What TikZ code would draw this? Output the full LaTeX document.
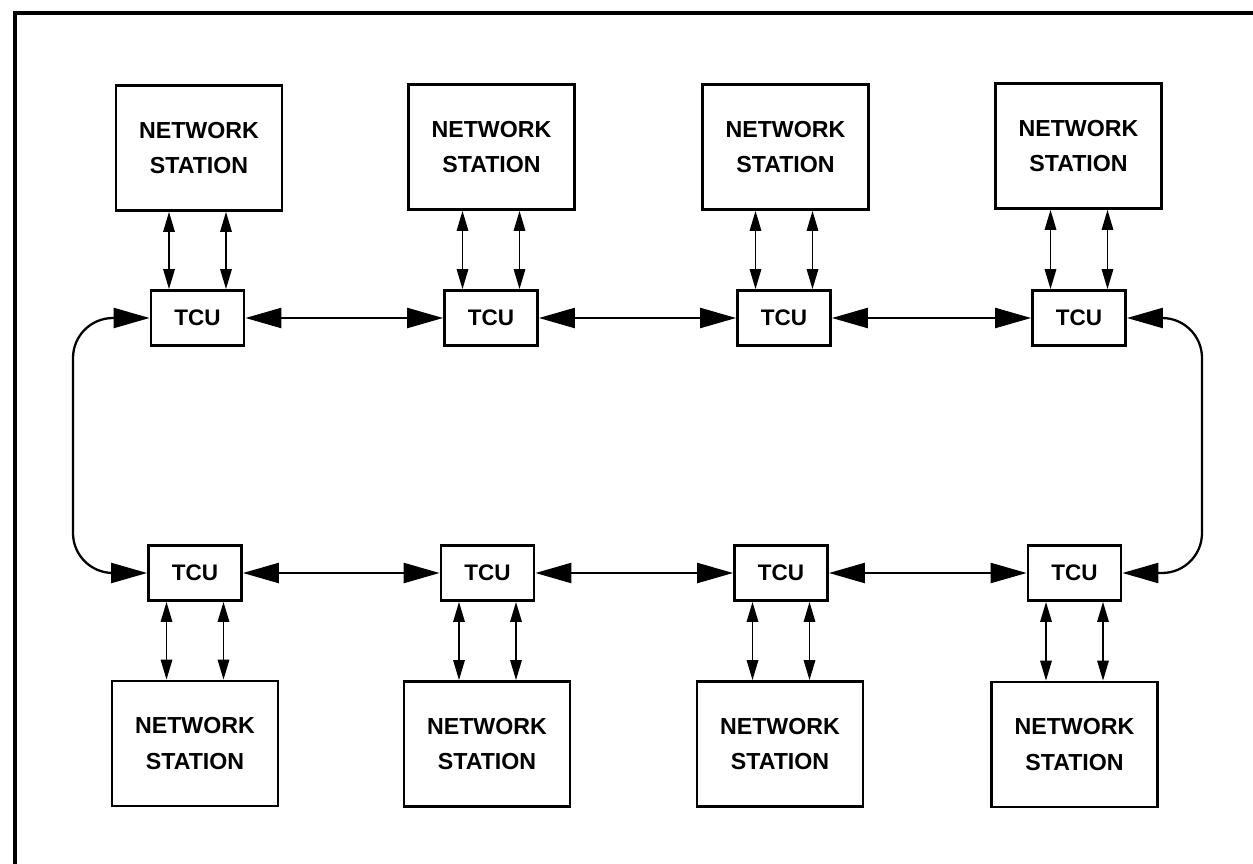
\documentclass[tikz,border=0pt]{standalone}
\usepackage{fontspec}
\setmainfont{Liberation Sans}
\usetikzlibrary{arrows.meta,calc}
\begin{document}
\begin{tikzpicture}[x=0.02cm,y=-0.02cm,
  station/.style={draw,line width=1.6pt,minimum width=3.32cm,minimum height=2.5cm,align=center,inner sep=0pt,font=\fontsize{13.2}{20.4}\selectfont\bfseries},
  tcu/.style={draw,line width=1.6pt,minimum width=1.86cm,minimum height=1.1cm,inner sep=0pt,font=\fontsize{12.8}{15}\selectfont\bfseries},
  ring/.style={line width=1.3pt,{Triangle[length=0.72cm,width=0.4cm]}-{Triangle[length=0.72cm,width=0.4cm]}},
  link/.style={line width=0.9pt,{Triangle[length=0.4cm,width=0.23cm]}-{Triangle[length=0.4cm,width=0.23cm]}},
  frame/.style={line width=1.8pt}]
\useasboundingbox (0,0) rectangle (1253,864);
% frame
\coordinate (fTR) at (1253,13);
\coordinate (fTL) at (15,13);
\coordinate (fBL) at (15,864);
\draw[frame] (fTR) -- (fTL) -- (fBL);
% top stations
\node[station] (S1) at (199,148) {NETWORK\\STATION};
\node[station] (S2) at (491.5,147) {NETWORK\\STATION};
\node[station] (S3) at (785.5,147) {NETWORK\\STATION};
\node[station] (S4) at (1078.5,146) {NETWORK\\STATION};
% top TCUs
\node[tcu] (T1) at (197.5,318) {TCU};
\node[tcu] (T2) at (491,318) {TCU};
\node[tcu] (T3) at (784,318) {TCU};
\node[tcu] (T4) at (1079,318) {TCU};
% bottom TCUs
\node[tcu] (B1) at (195,573) {TCU};
\node[tcu] (B2) at (487.5,573) {TCU};
\node[tcu] (B3) at (781,573) {TCU};
\node[tcu] (B4) at (1074.5,573) {TCU};
% bottom stations
\node[station] (BS1) at (195,743.5) {NETWORK\\STATION};
\node[station] (BS2) at (487,744) {NETWORK\\STATION};
\node[station] (BS3) at (780,744) {NETWORK\\STATION};
\node[station] (BS4) at (1074.5,744.5) {NETWORK\\STATION};
% station links
\foreach \t/\s in {T1/S1,T2/S2,T3/S3,T4/S4}{
  \draw[link] ([xshift=-0.57cm]\t.north |- \s.south) -- ([xshift=-0.57cm]\t.north);
  \draw[link] ([xshift=0.57cm]\t.north |- \s.south) -- ([xshift=0.57cm]\t.north);
}
\foreach \t/\s in {B1/BS1,B2/BS2,B3/BS3,B4/BS4}{
  \draw[link] ([xshift=-0.57cm]\t.south) -- ([xshift=-0.57cm]\t.south |- \s.north);
  \draw[link] ([xshift=0.57cm]\t.south) -- ([xshift=0.57cm]\t.south |- \s.north);
}
% ring links
\draw[ring] (T1.east) -- (T2.west);
\draw[ring] (T2.east) -- (T3.west);
\draw[ring] (T3.east) -- (T4.west);
\draw[ring] (B1.east) -- (B2.west);
\draw[ring] (B2.east) -- (B3.west);
\draw[ring] (B3.east) -- (B4.west);
\coordinate (lx) at (73,0);
\coordinate (rx) at (1202,0);
\draw[ring,rounded corners=0.8cm] (T1.west) -- (T1.west -| lx) -- (B1.west -| lx) -- (B1.west);
\draw[ring,rounded corners=0.8cm] (T4.east) -- (T4.east -| rx) -- (B4.east -| rx) -- (B4.east);
\end{tikzpicture}
\end{document}
